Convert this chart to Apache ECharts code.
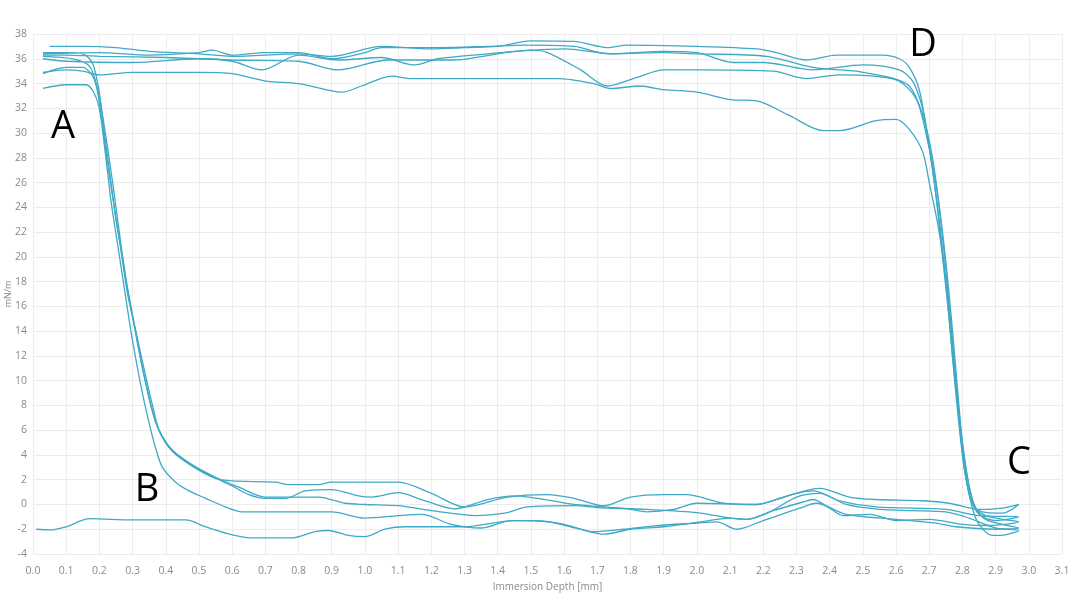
<!DOCTYPE html>
<html>
<head>
<meta charset="utf-8">
<script src="https://cdn.jsdelivr.net/npm/echarts@6/dist/echarts.min.js"></script>
<style>
  html, body { margin: 0; padding: 0; background: #fff; }
  #chart { width: 1080px; height: 602px; }
</style>
</head>
<body>
<div id="chart"></div>
<script>
// immersion depth [mm] vs force [mN/m], one closed loop per cycle
let cycle1 = [
  [0.01,-2.0],[0.05,-2.05],[0.1,-1.8],[0.17,-1.15],[0.3,-1.25],[0.46,-1.25],[0.52,-1.8],[0.6,-2.45],
  [0.66,-2.7],[0.78,-2.7],[0.85,-2.2],[0.89,-2.1],[0.95,-2.5],[1.0,-2.6],[1.06,-2.0],[1.12,-1.8],
  [1.3,-1.8],[1.45,-1.3],[1.55,-1.4],[1.65,-2.0],[1.72,-2.4],[1.8,-2.0],[1.9,-1.8],[2.0,-1.45],
  [2.1,-1.1],[2.15,-1.2],[2.22,-0.6],[2.3,0.6],[2.37,0.9],[2.45,0.0],[2.55,-0.4],[2.65,-0.5],
  [2.75,-0.6],[2.82,-1.1],[2.9,-1.9],[2.97,-2.1],
  [2.93,-2.45],[2.89,-2.5],[2.85,-1.6],[2.83,-0.3],[2.81,2.5],[2.79,7],[2.77,12],[2.75,18],
  [2.73,23],[2.71,27],[2.69,30.5],[2.67,33.5],[2.64,35.3],[2.61,36.0],[2.56,36.3],[2.42,36.3],
  [2.33,35.9],[2.24,36.5],[2.18,36.8],[2.0,37.0],[1.79,37.1],[1.73,36.9],[1.63,37.4],[1.5,37.45],
  [1.4,37.0],[1.3,36.9],[1.2,36.8],[1.05,37.0],[0.9,36.2],[0.8,36.4],[0.6,36.2],[0.5,36.4],
  [0.35,36.6],[0.25,36.9],[0.15,37.0],[0.05,37.0]
];

let cycle2 = [
  [0.03,36.5],[0.1,36.5],[0.15,36.4],[0.18,35.6],[0.2,33.2],[0.215,30],[0.235,26],[0.25,23],
  [0.27,20],[0.29,16.5],[0.31,14],[0.33,11.5],[0.36,8],[0.38,6],[0.42,4.3],[0.48,3.1],[0.55,2.1],
  [0.6,1.9],[0.73,1.8],[0.77,1.6],[0.86,1.6],[0.9,1.8],[1.1,1.8],[1.2,0.9],[1.3,-0.2],[1.43,0.6],
  [1.55,0.8],[1.63,0.5],[1.72,-0.1],[1.8,0.6],[1.9,0.8],[1.97,0.8],[2.08,0.1],[2.18,0.0],[2.26,0.6],
  [2.37,1.3],[2.46,0.6],[2.54,0.4],[2.68,0.3],[2.76,0.1],[2.85,-0.4],[2.92,-0.3],[2.97,0.0],
  [2.92,-0.7],[2.86,-0.6],[2.83,0],[2.815,1.5],[2.8,4],[2.78,9],[2.76,15],[2.74,20],[2.72,25],
  [2.7,29],[2.68,32],[2.65,34.2],[2.61,35.1],[2.5,35.5],[2.35,35.1],[2.2,35.7],[2.11,35.7],
  [2.0,36.5],[1.9,36.6],[1.73,36.4],[1.63,37.0],[1.48,37.1],[1.37,37.0],[1.22,36.9],[1.05,36.9],
  [1.0,36.5],[0.9,36.0],[0.8,36.5],[0.7,36.5],[0.6,36.3],[0.54,36.7],[0.5,36.5],[0.35,36.3],
  [0.2,36.5],[0.03,36.4]
];

let cycle3 = [
  [0.03,36.2],[0.12,36.0],[0.17,35.4],[0.195,33.5],[0.215,30.5],[0.24,26],[0.26,22],[0.275,19],
  [0.295,16],[0.315,13],[0.34,9.8],[0.37,6.6],[0.41,4.6],[0.47,3.3],[0.53,2.4],[0.6,1.5],[0.65,0.8],
  [0.7,0.5],[0.76,0.5],[0.82,1.1],[0.9,1.2],[0.98,0.7],[1.02,0.6],[1.1,0.95],[1.17,0.4],[1.27,-0.35],
  [1.37,0.4],[1.45,0.7],[1.63,0.0],[1.79,-0.35],[1.85,-0.6],[1.93,-0.4],[2.0,0.1],[2.18,0.0],
  [2.24,0.4],[2.3,0.9],[2.35,1.1],[2.43,0.3],[2.54,-0.2],[2.75,-0.4],[2.85,-0.9],[2.97,-1.0],
  [2.9,-1.3],[2.85,-0.8],[2.825,0.5],[2.805,3],[2.79,7],[2.77,13],[2.75,19],[2.73,24],[2.71,28],
  [2.68,31.5],[2.64,33.8],[2.58,34.5],[2.5,34.9],[2.48,35.0],[2.35,35.3],[2.21,36.2],[2.0,36.4],
  [1.9,36.5],[1.75,36.4],[1.6,36.8],[1.45,36.6],[1.37,36.4],[1.22,36.0],[1.15,35.5],[1.05,36.1],
  [0.92,35.9],[0.8,36.3],[0.69,35.1],[0.6,35.8],[0.5,36.0],[0.3,35.7],[0.1,35.8],[0.03,36.0]
];

let cycle4 = [
  [0.03,34.8],[0.1,35.3],[0.15,35.3],[0.185,34.3],[0.205,31.5],[0.225,27.5],[0.245,24],[0.265,20.5],
  [0.285,17],[0.305,14.5],[0.33,11],[0.355,8],[0.38,6],[0.42,4.4],[0.48,3.2],[0.55,2.2],[0.62,1.4],
  [0.7,0.6],[0.86,0.6],[0.94,0.1],[1.0,0.0],[1.1,-0.1],[1.2,-0.5],[1.34,-0.9],[1.42,-0.7],[1.49,-0.2],
  [1.63,-0.1],[1.7,-0.25],[1.85,-0.4],[2.0,-0.65],[2.1,-1.1],[2.15,-1.2],[2.23,-0.5],[2.32,0.2],
  [2.35,0.4],[2.4,-0.3],[2.44,-0.9],[2.52,-0.8],[2.6,-1.3],[2.7,-1.2],[2.8,-1.6],[2.88,-1.7],[2.97,-1.4],
  [2.92,-1.2],[2.87,-0.9],[2.84,-0.3],[2.82,1.5],[2.8,5],[2.78,11],[2.76,17],[2.74,22],[2.72,26],
  [2.69,30],[2.66,32.8],[2.6,34.3],[2.43,34.7],[2.33,34.4],[2.23,35.0],[2.0,35.1],[1.9,35.1],
  [1.82,34.5],[1.73,33.8],[1.65,35.1],[1.55,36.5],[1.5,36.7],[1.4,36.4],[1.27,35.9],[1.07,35.9],
  [0.92,35.1],[0.8,35.8],[0.6,35.9],[0.4,36.1],[0.2,36.2],[0.1,36.3],[0.03,36.3]
];

let cycle5 = [
  [0.03,33.6],[0.1,33.9],[0.16,33.9],[0.195,32.5],[0.215,29],[0.235,24.5],[0.255,21],[0.275,17.5],
  [0.295,14],[0.315,11],[0.335,8.3],[0.355,6],[0.37,4.5],[0.39,3.0],[0.43,1.8],[0.47,1.1],[0.52,0.5],
  [0.58,-0.2],[0.63,-0.6],[0.9,-0.6],[1.0,-1.1],[1.1,-0.9],[1.17,-0.8],[1.26,-1.6],[1.35,-1.9],
  [1.44,-1.3],[1.52,-1.3],[1.6,-1.6],[1.69,-2.2],[1.78,-2.0],[1.88,-1.7],[2.0,-1.5],[2.06,-1.4],
  [2.12,-2.0],[2.2,-1.3],[2.31,-0.3],[2.36,0.1],[2.45,-0.8],[2.6,-1.2],[2.72,-1.5],[2.78,-1.8],
  [2.9,-2.0],[2.97,-1.9],
  [2.92,-1.6],[2.87,-1.2],[2.84,-0.3],[2.82,1.5],[2.8,5],[2.78,10],[2.76,16],[2.73,22],[2.7,26],
  [2.68,28.5],[2.64,30.3],[2.6,31.1],[2.54,31.0],[2.43,30.2],[2.38,30.2],[2.28,31.4],[2.18,32.6],
  [2.1,32.7],[2.0,33.3],[1.9,33.5],[1.83,33.8],[1.74,33.6],[1.69,34.0],[1.58,34.4],[1.14,34.4],
  [1.08,34.6],[0.99,33.8],[0.93,33.3],[0.9,33.4],[0.8,34.0],[0.7,34.2],[0.6,34.8],[0.5,34.9],
  [0.3,34.9],[0.2,34.7],[0.15,35.0],[0.1,35.1],[0.03,34.9]
];

let cycles = [cycle1, cycle2, cycle3, cycle4, cycle5];
let letters = ['A', 'B', 'C', 'D'];

let chart = echarts.init(document.getElementById('chart'));

// letter centres in pixels
let letterPos = [[63, 127], [147, 490], [1019, 463], [923, 45]];

option = {
  animation: false,
  backgroundColor: '#fff',
  textStyle: { fontFamily: 'Open Sans' },
  grid: { left: 33, right: 18, top: 34, bottom: 48, outerBoundsMode: 'none', containLabel: false },
  xAxis: {
    type: 'value',
    min: 0,
    max: 3.1,
    interval: 0.1,
    name: 'Immersion Depth [mm]',
    nameLocation: 'middle',
    nameGap: 28,
    nameMoveOverlap: false,
    nameTextStyle: { color: '#8a8a8a', fontSize: 10 },
    axisLine: { show: false },
    axisTick: { show: false },
    axisLabel: { color: '#8a8a8a', fontSize: 10.5, margin: 12, formatter: v => v.toFixed(1) },
    splitLine: { lineStyle: { color: '#ececec' } }
  },
  yAxis: {
    type: 'value',
    min: -4,
    max: 38,
    interval: 2,
    name: 'mN/m',
    nameLocation: 'middle',
    nameGap: 20,
    nameMoveOverlap: false,
    nameTextStyle: { color: '#8a8a8a', fontSize: 9 },
    axisLine: { show: false },
    axisTick: { show: false },
    axisLabel: { color: '#8a8a8a', fontSize: 10.5, margin: 6 },
    splitLine: { lineStyle: { color: '#ececec' } }
  },
  graphic: letters.map((t, i) => ({
    type: 'text',
    z: 100,
    x: letterPos[i][0],
    y: letterPos[i][1],
    style: {
      text: t, fontSize: 38, fill: '#000', fontFamily: 'Open Sans',
      align: 'center', verticalAlign: 'middle'
    }
  })),
  series: cycles.map((c, i) => ({
    name: 'cycle ' + (i + 1),
    type: 'line',
    data: c,
    smooth: 0.3,
    showSymbol: false,
    lineStyle: { color: '#3fa9c6', width: 1.3 }
  }))
};

chart.setOption(option);
</script>
</body>
</html>
